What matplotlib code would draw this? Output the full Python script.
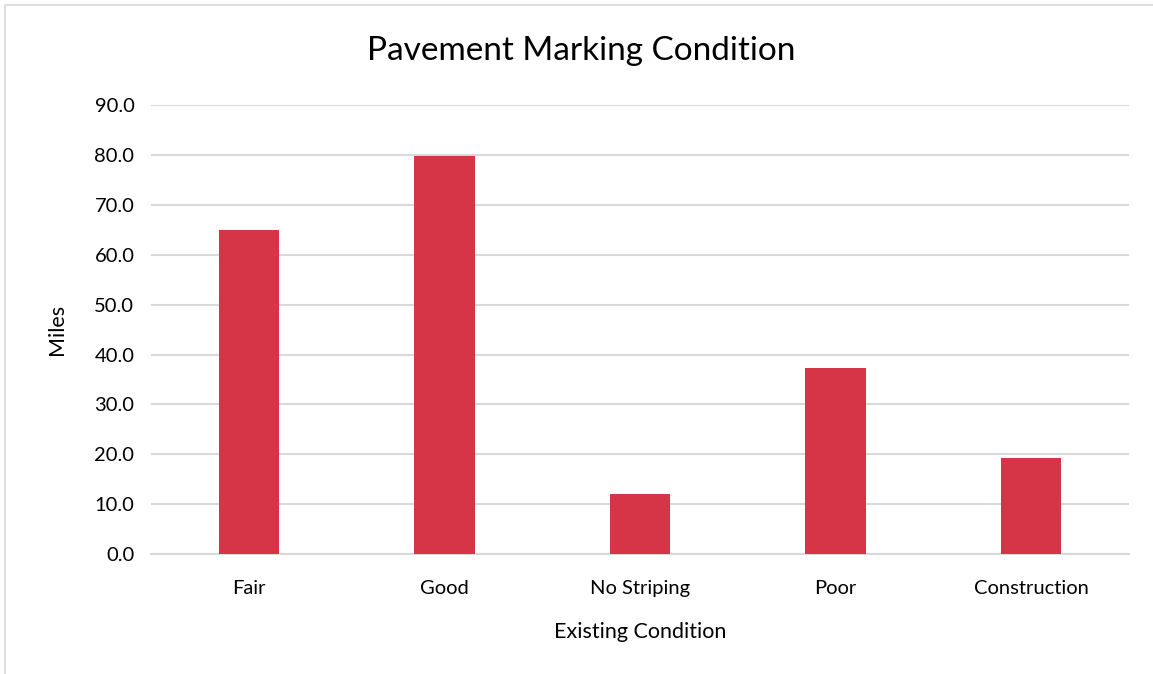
import matplotlib.pyplot as plt
from matplotlib.patches import Rectangle

conditions = ["Fair", "Good", "No Striping", "Poor", "Construction"]
miles = [64.9, 79.8, 12.0, 37.3, 19.2]
yticks = [0, 10, 20, 30, 40, 50, 60, 70, 80, 90]

plt.rcParams['font.family'] = ['Lato', 'DejaVu Sans']

fig = plt.figure(figsize=(11.53, 6.74), dpi=100)
ax = fig.add_axes([0.131, 0.178, 0.848, 0.666])

# outer chart border
fig.patches.append(Rectangle((0.004, -0.01), 1.0, 1.003, transform=fig.transFigure,
                             fill=False, edgecolor="#D9D9D9", linewidth=1.2))

x = range(len(conditions))
ax.bar(x, miles, width=0.31, color="#D63447", zorder=3)

ax.set_xlim(-0.5, len(conditions) - 0.5)
ax.set_ylim(0, 90)
ax.set_yticks(yticks)
ax.set_yticklabels([f"{t:.1f}" for t in yticks], fontsize=14.5)
ax.set_xticks(list(x))
ax.set_xticklabels(conditions, fontsize=14.5)

ax.yaxis.grid(True, color="#D9D9D9", linewidth=1.5, zorder=0)
ax.set_axisbelow(True)
for s in ["top", "right", "left"]:
    ax.spines[s].set_visible(False)
ax.spines["bottom"].set_color("#D9D9D9")
ax.spines["bottom"].set_linewidth(1.5)
ax.tick_params(length=0, pad=12)
ax.tick_params(axis="x", pad=19)

fig.text(0.504, 0.925, "Pavement Marking Condition", fontsize=24,
         ha="center", va="center")
ax.set_xlabel("Existing Condition", fontsize=15.5, labelpad=18)
ax.set_ylabel("Miles", fontsize=15.5, labelpad=20)

fig.savefig("out.png", dpi=100)
